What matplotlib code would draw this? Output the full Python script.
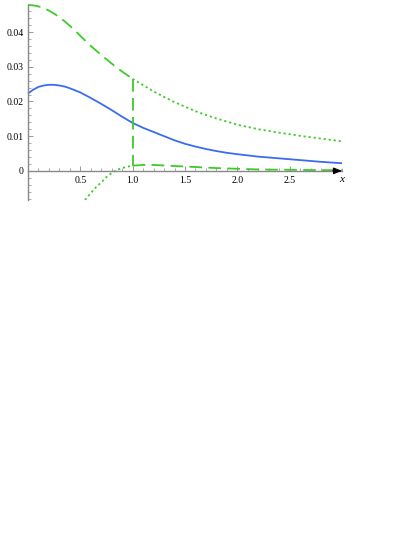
import matplotlib
matplotlib.use("Agg")
import matplotlib.pyplot as plt
import matplotlib.transforms as mtransforms
from matplotlib.ticker import MultipleLocator, FixedLocator

# --- data ---
x_blue = [0.0, 0.05, 0.1, 0.15, 0.2, 0.25, 0.3, 0.35, 0.4, 0.5, 0.6, 0.7, 0.8, 0.9, 1.0,
          1.1, 1.2, 1.3, 1.4, 1.5, 1.6, 1.7, 1.8, 1.9, 2.0, 2.2, 2.4, 2.6, 2.8, 3.0]
y_blue = [0.0223, 0.0234, 0.0242, 0.0246, 0.0248, 0.0248, 0.0246, 0.0243, 0.0238, 0.0226,
          0.0210, 0.0193, 0.0175, 0.0156, 0.0138, 0.0124, 0.0112, 0.0100, 0.0088, 0.0078,
          0.0070, 0.0063, 0.0057, 0.0052, 0.0048, 0.0041, 0.0036, 0.0031, 0.0026, 0.0022]

x_up_dash = [0.0, 0.05, 0.1, 0.15, 0.2, 0.25, 0.3, 0.35, 0.4, 0.45, 0.5, 0.6, 0.7, 0.8,
             0.9, 1.0]
y_up_dash = [0.0478, 0.0477, 0.0474, 0.0469, 0.0462, 0.0453, 0.0443, 0.0431, 0.0418,
             0.0404, 0.0389, 0.0360, 0.0334, 0.0309, 0.0286, 0.0265]

x_up_dot = [1.0, 1.1, 1.2, 1.3, 1.4, 1.5, 1.6, 1.7, 1.8, 1.9, 2.0, 2.2, 2.4, 2.6, 2.8, 3.0]
y_up_dot = [0.0265, 0.0247, 0.0229, 0.0213, 0.0198, 0.0185, 0.0172, 0.0161, 0.0151,
            0.0142, 0.0133, 0.0120, 0.0110, 0.0101, 0.0093, 0.0085]

x_low_dot = [0.545, 0.6, 0.65, 0.7, 0.75, 0.8, 0.85, 0.9, 0.95, 1.0]
y_low_dot = [-0.0084, -0.0064, -0.0047, -0.0033, -0.0018, -0.0006, 0.0003, 0.0008,
             0.0012, 0.0015]

x_low_dash = [1.0, 1.1, 1.2, 1.4, 1.6, 1.8, 2.0, 2.2, 2.5, 2.8, 3.0]
y_low_dash = [0.0015, 0.0017, 0.0017, 0.0014, 0.0011, 0.0008, 0.0006, 0.0004, 0.0003,
              0.0002, 0.0002]

x_jump = 1.0

x_ticks = [0.5, 1.0, 1.5, 2.0, 2.5]
x_ticklabels = ["0.5", "1.0", "1.5", "2.0", "2.5"]
y_ticks = [0.0, 0.01, 0.02, 0.03, 0.04]
y_ticklabels = ["0", "0.01", "0.02", "0.03", "0.04"]

blue = "#3a6cf0"
green = "#3ccc28"

plt.rcParams["font.family"] = ["Liberation Serif", "DejaVu Serif"]

fig = plt.figure(figsize=(4.19, 5.43), dpi=100)
W, H = 419, 543
left, right = 28 / W, 342 / W
top, bottom = 1 - 5 / H, 1 - 200 / H
ax = fig.add_axes([left, bottom, right - left, top - bottom])
ax.set_xlim(0, 3.0)
ax.set_ylim(-0.0084, 0.0478)

lw = 1.3
ax.plot(x_blue, y_blue, color=blue, lw=lw, solid_capstyle="butt", clip_on=False)
ax.plot(x_up_dash, y_up_dash, color=green, lw=lw, dashes=(7, 3.5), clip_on=False)
ax.plot(x_up_dot, y_up_dot, color=green, lw=lw, dashes=(1.2, 1.6))
ax.plot([x_jump, x_jump], [y_up_dash[-1], y_low_dash[0]], color=green, lw=lw, dashes=(7, 3.5))
ax.plot(x_low_dot, y_low_dot, color=green, lw=lw, dashes=(1.2, 1.6))
ax.plot(x_low_dash, y_low_dash, color=green, lw=lw, dashes=(7, 3.5))

gray = "#888888"
for s in ["top", "right"]:
    ax.spines[s].set_visible(False)
ax.spines["left"].set_color(gray)
ax.spines["left"].set_linewidth(1.0)
ax.spines["bottom"].set_position(("data", 0))
ax.spines["bottom"].set_color(gray)
ax.spines["bottom"].set_linewidth(1.0)

ax.xaxis.set_major_locator(FixedLocator(x_ticks))
ax.set_xticklabels(x_ticklabels)
ax.xaxis.set_minor_locator(MultipleLocator(0.1))
ax.yaxis.set_major_locator(FixedLocator(y_ticks))
ax.set_yticklabels(y_ticklabels)
ax.yaxis.set_minor_locator(MultipleLocator(0.002))

ax.tick_params(axis="both", which="major", direction="in", length=3.5, width=0.6,
               color=gray, labelsize=7, pad=3)
ax.tick_params(axis="both", which="minor", direction="in", length=2, width=0.5, color=gray)
ax.tick_params(axis="x", which="major", pad=4)

ax.annotate("", xy=(1.0, 0), xycoords=("axes fraction", "data"),
            xytext=(0.97, 0), textcoords=("axes fraction", "data"),
            arrowprops=dict(arrowstyle="-|>,head_length=0.5,head_width=0.2",
                            color="black", lw=0.8, shrinkA=0, shrinkB=0))
ax.text(1.0, -0.0012, "x",
        transform=mtransforms.blended_transform_factory(ax.transAxes, ax.transData),
        ha="center", va="top", fontsize=8, style="italic")

fig.savefig("out.png", dpi=100)
